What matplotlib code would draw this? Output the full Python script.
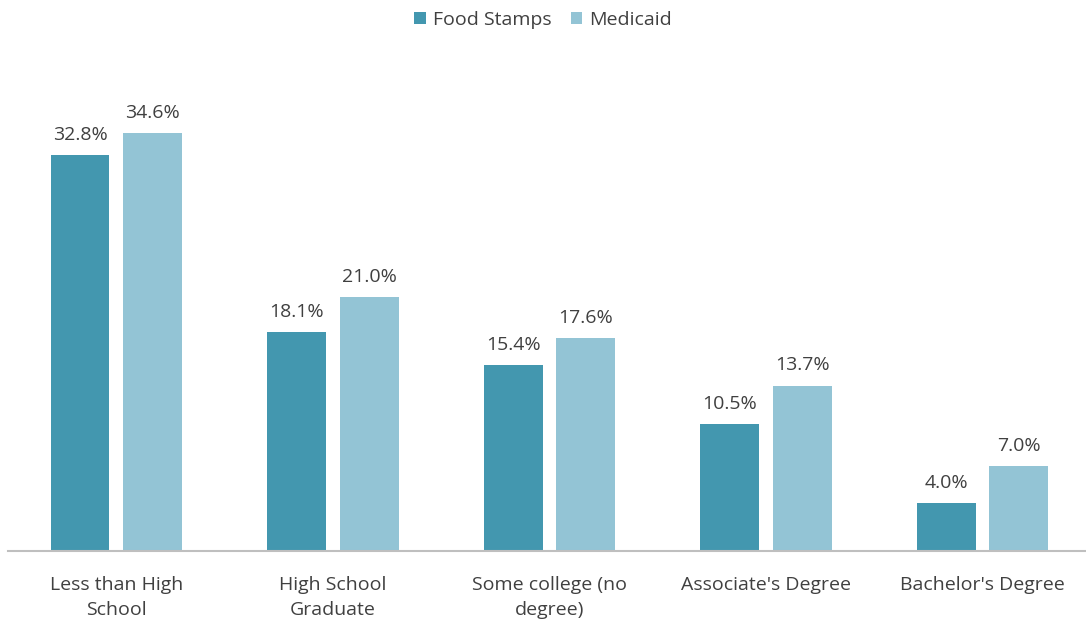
import matplotlib
matplotlib.use("Agg")
import matplotlib.pyplot as plt
import numpy as np

categories = ["Less than High\nSchool", "High School\nGraduate", "Some college (no\ndegree)",
              "Associate's Degree", "Bachelor's Degree"]
food_stamps = [32.8, 18.1, 15.4, 10.5, 4.0]
medicaid = [34.6, 21.0, 17.6, 13.7, 7.0]
series_names = ["Food Stamps", "Medicaid"]

plt.rcParams['font.family'] = ['Open Sans', 'DejaVu Sans']
W, H = 1086, 624
fig = plt.figure(figsize=(W/100, H/100), dpi=100)
ax_left = 8 / W
ax_right = 1086 / W
ax_bottom = (H - 551) / H
ax_top = (H - 68) / H
ax = fig.add_axes([ax_left, ax_bottom, ax_right - ax_left, ax_top - ax_bottom])

x = np.arange(len(categories))
bw = 0.272
off = 0.1675
c1, c2 = "#4397AF", "#93C4D5"
tc = "#404040"
fs = 14
b1 = ax.bar(x - off, food_stamps, bw, color=c1, label=series_names[0])
b2 = ax.bar(x + off, medicaid, bw, color=c2, label=series_names[1])
for bars, vals in ((b1, food_stamps), (b2, medicaid)):
    for b, v in zip(bars, vals):
        ax.annotate(f"{v:.1f}%", (b.get_x() + b.get_width()/2, v), xytext=(0, 8),
                    textcoords="offset points", ha="center", va="bottom",
                    fontsize=fs, color=tc)

ax.set_xlim(-0.5, 4.478)
ax.set_ylim(0, 40)
ax.set_yticks([])
ax.set_xticks(x)
ax.set_xticklabels(categories, fontsize=fs, color=tc, linespacing=1.5)
ax.tick_params(axis='x', length=0, pad=18)
for s in ("top", "right", "left"):
    ax.spines[s].set_visible(False)
ax.spines["bottom"].set_color("#BFBFBF")
ax.spines["bottom"].set_linewidth(1.5)

fig.legend(handles=[b1, b2], labels=series_names, loc="upper center",
           bbox_to_anchor=(0.5, 1.0), ncol=2, frameon=False, fontsize=fs,
           labelcolor=tc, handlelength=0.6, handleheight=0.6, handletextpad=0.35,
           columnspacing=1.0, borderaxespad=0.15)
fig.savefig("out.png", dpi=100)
